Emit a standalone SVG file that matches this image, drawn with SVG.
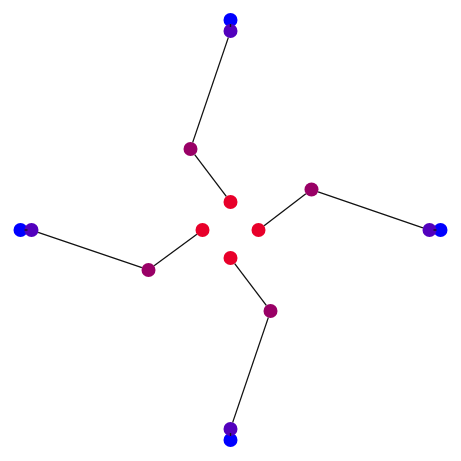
<svg xmlns="http://www.w3.org/2000/svg" width="461" height="461" viewBox="0 0 461 461">
<style>
.r{fill:#e8002a}.m{fill:#990066}.p{fill:#5200bd}.b{fill:#0000ff}
.e line{stroke:#111;stroke-width:1.3}
</style>
<rect width="461" height="461" fill="#fff"/>
<g id="nodes">
<g id="top-red"><circle class="r" cx="230.5" cy="202" r="7"/></g>
<g id="top-mag"><circle class="m" cx="190.5" cy="149" r="7"/></g>
<g id="top-blue"><circle class="b" cx="230.5" cy="20" r="7"/></g>
<g id="top-pur"><circle class="p" cx="230.5" cy="31" r="7"/></g>
<g id="right-red"><circle class="r" cx="258.5" cy="230" r="7"/></g>
<g id="right-mag"><circle class="m" cx="311.5" cy="189.5" r="7"/></g>
<g id="right-blue"><circle class="b" cx="440.5" cy="230" r="7"/></g>
<g id="right-pur"><circle class="p" cx="429.5" cy="230" r="7"/></g>
<g id="bottom-red"><circle class="r" cx="230.5" cy="258" r="7"/></g>
<g id="bottom-mag"><circle class="m" cx="270.5" cy="311" r="7"/></g>
<g id="bottom-blue"><circle class="b" cx="230.5" cy="440" r="7"/></g>
<g id="bottom-pur"><circle class="p" cx="230.5" cy="429" r="7"/></g>
<g id="left-red"><circle class="r" cx="202.5" cy="230" r="7"/></g>
<g id="left-mag"><circle class="m" cx="148.5" cy="270" r="7"/></g>
<g id="left-blue"><circle class="b" cx="20.5" cy="230" r="7"/></g>
<g id="left-pur"><circle class="p" cx="31.5" cy="230" r="7"/></g>
</g>
<g id="edges" class="e">
<line x1="226.3" y1="196.4" x2="194.7" y2="154.6"/>
<line x1="192.7" y1="142.4" x2="228.3" y2="37.6"/>
<line x1="230.5" y1="24" x2="230.5" y2="27"/>
<line x1="264.1" y1="225.8" x2="305.9" y2="193.7"/>
<line x1="318.1" y1="191.8" x2="422.9" y2="227.8"/>
<line x1="436.5" y1="230" x2="433.5" y2="230"/>
<line x1="234.7" y1="263.6" x2="266.3" y2="305.4"/>
<line x1="268.3" y1="317.6" x2="232.7" y2="422.4"/>
<line x1="230.5" y1="436" x2="230.5" y2="433"/>
<line x1="196.9" y1="234.2" x2="154.1" y2="265.8"/>
<line x1="141.9" y1="267.7" x2="38.1" y2="232.3"/>
<line x1="24.5" y1="230" x2="27.5" y2="230"/>
</g>
</svg>
